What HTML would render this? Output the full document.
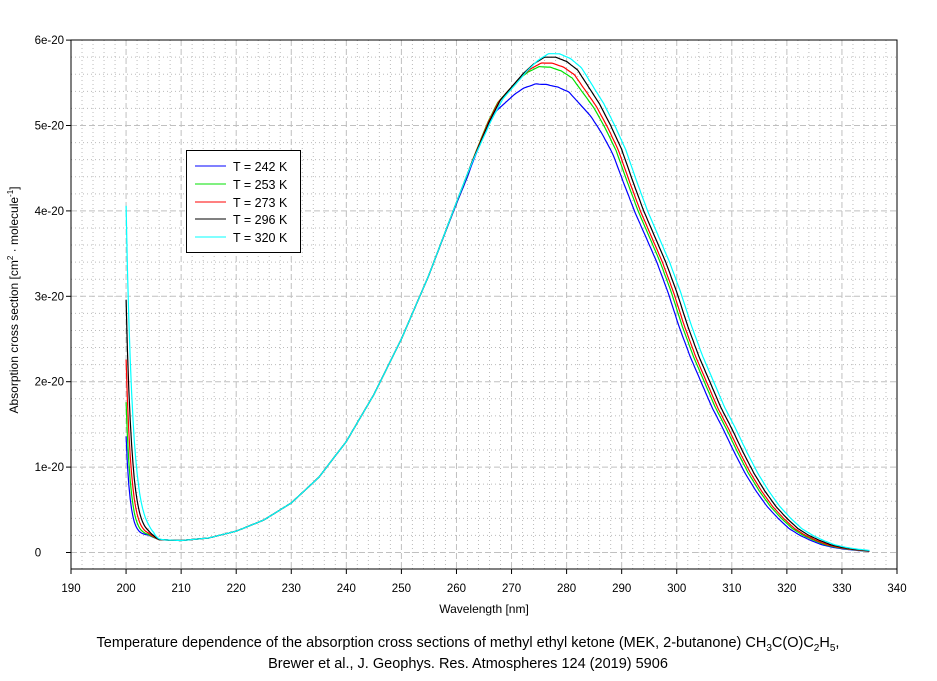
<!DOCTYPE html>
<html><head><meta charset="utf-8"><style>
body{margin:0;background:#fff;}
svg text{font-family:"Liberation Sans",sans-serif;}
</style></head><body>
<svg id="s" width="937" height="676" xmlns="http://www.w3.org/2000/svg">
<rect width="937" height="676" fill="#fff"/>
<g id="grid"></g>
<rect x="71" y="40" width="826" height="529" fill="none" stroke="#000" stroke-width="1"/>
<g id="ticks" font-size="11.5"></g>
<g id="curves" fill="none" stroke-width="1.2"></g>
<rect x="186.5" y="150.5" width="114" height="102" fill="#fff" stroke="#000"/>
<g font-size="12.5">
<line x1="195" y1="166" x2="226" y2="166" stroke="#0000ff"/><text x="233" y="171">T = 242 K</text>
<line x1="195" y1="184" x2="226" y2="184" stroke="#00e000"/><text x="233" y="189">T = 253 K</text>
<line x1="195" y1="202" x2="226" y2="202" stroke="#ff0000"/><text x="233" y="207">T = 273 K</text>
<line x1="195" y1="219" x2="226" y2="219" stroke="#000"/><text x="233" y="224">T = 296 K</text>
<line x1="195" y1="237" x2="226" y2="237" stroke="#00ffff"/><text x="233" y="242">T = 320 K</text>
</g>
<text x="484" y="613" font-size="12" text-anchor="middle">Wavelength [nm]</text>
<text transform="translate(18,300) rotate(-90)" font-size="12" text-anchor="middle">Absorption cross section [cm<tspan dy="-5" font-size="8">2</tspan><tspan dy="5"> · molecule</tspan><tspan dy="-5" font-size="8">-1</tspan><tspan dy="5">]</tspan></text>
<text x="468" y="647" font-size="14.5" text-anchor="middle">Temperature dependence of the absorption cross sections of methyl ethyl ketone (MEK, 2-butanone) CH<tspan dy="4" font-size="10">3</tspan><tspan dy="-4">C(O)C</tspan><tspan dy="4" font-size="10">2</tspan><tspan dy="-4">H</tspan><tspan dy="4" font-size="10">5</tspan><tspan dy="-4">,</tspan></text>
<text x="468" y="668" font-size="14.5" text-anchor="middle">Brewer et al., J. Geophys. Res. Atmospheres 124 (2019) 5906</text>
</svg>
<script>
var NS="http://www.w3.org/2000/svg";
function X(l){return 71+(l-190)*5.5067;}
function Y(v){return 552.5-v*85.4;}
function el(p,t,a){var e=document.createElementNS(NS,t);for(var k in a)e.setAttribute(k,a[k]);p.appendChild(e);return e;}
var g=document.getElementById('grid'),tk=document.getElementById('ticks');
for(var l=192;l<340;l+=2){if(l%10)el(g,'line',{x1:X(l),x2:X(l),y1:40,y2:569,stroke:'#bbb','stroke-dasharray':'1,3'});}
for(var i=-1;i<30;i++){var v=i*0.2;if(i%5!==0&&Y(v)<569&&Y(v)>40)el(g,'line',{x1:71,x2:897,y1:Y(v),y2:Y(v),stroke:'#bbb','stroke-dasharray':'1,3'});}
for(var l=200;l<340;l+=10)el(g,'line',{x1:X(l),x2:X(l),y1:40,y2:569,stroke:'#c0c0c0','stroke-dasharray':'6,3'});
for(var v=0;v<6;v++)el(g,'line',{x1:71,x2:897,y1:Y(v),y2:Y(v),stroke:'#c0c0c0','stroke-dasharray':'6,3'});
for(var l=190;l<=340;l+=10){el(tk,'line',{x1:X(l),x2:X(l),y1:569,y2:574,stroke:'#000'});el(tk,'text',{x:X(l),y:592,'text-anchor':'middle'}).textContent=l;}
var yl=['0','1e-20','2e-20','3e-20','4e-20','5e-20','6e-20'];
for(var v=0;v<=6;v++){el(tk,'line',{x1:66,x2:71,y1:Y(v),y2:Y(v),stroke:'#000'});el(tk,'text',{x:v?64:38,y:Y(v)+4,'text-anchor':v?'end':'middle'}).textContent=yl[v];}
var P=[[204,0.2],[206,0.15],[210,0.14],[215,0.17],[220,0.25],[225,0.38],[230,0.58],[235,0.88],[240,1.3],[245,1.85],[250,2.5],[255,3.25],[260,4.1],[263,4.6],[266,5.05],[268,5.3],[270,5.45],[272,5.6],[274,5.72],[276,5.8],[278,5.8],[280,5.75],[282,5.65],[284,5.45],[286,5.25],[288,5.0],[290,4.72],[292,4.35],[294,4.0],[296,3.7],[298,3.4],[300,3.05],[302,2.65],[304,2.3],[306,2.0],[308,1.7],[310,1.45],[312,1.18],[314,0.93],[316,0.72],[318,0.54],[320,0.4],[322,0.28],[324,0.2],[326,0.14],[328,0.09],[330,0.06],[332,0.04],[335,0.02],[340,0.0]];
function base(l){if(l<=P[0][0])return P[0][1];for(var i=1;i<P.length;i++)if(l<=P[i][0]){var a=P[i-1],b=P[i],t=(l-a[0])/(b[0]-a[0]);return a[1]+(b[1]-a[1])*t;}return 0;}
var S=[['#0000ff',1.6,0.945,1.3,0.75,276,10],['#00e000',1.0,0.98,1.7,0.85,277,9],['#ff0000',0.6,0.988,2.2,0.95,277,9],['#000000',0,1,2.9,1.05,277,9],['#00ffff',-0.7,1.007,4.0,1.2,277,9]];
var c=document.getElementById('curves');
for(var j=0;j<S.length;j++){var col=S[j][0],d=S[j][1],s=S[j][2],A=S[j][3],tau=S[j][4],cen=S[j][5],wd=S[j][6];var pts=[];
for(var l=200;l<=335;l+=0.25){var w=Math.min(1,Math.max(0,(l-262)/10));var v=base(l+d*w)*(1+(s-1)*Math.exp(-Math.pow((l-cen)/wd,2)));
if(l<212)v=Math.max(v,0.14)+(A-0.14)*Math.exp(-(l-200)/tau)*(l<205?1:Math.exp(-(l-205)));
pts.push(X(l).toFixed(1)+','+Y(v).toFixed(1));}
el(c,'path',{d:'M'+pts.join('L'),stroke:col});}
</script>
</body></html>
